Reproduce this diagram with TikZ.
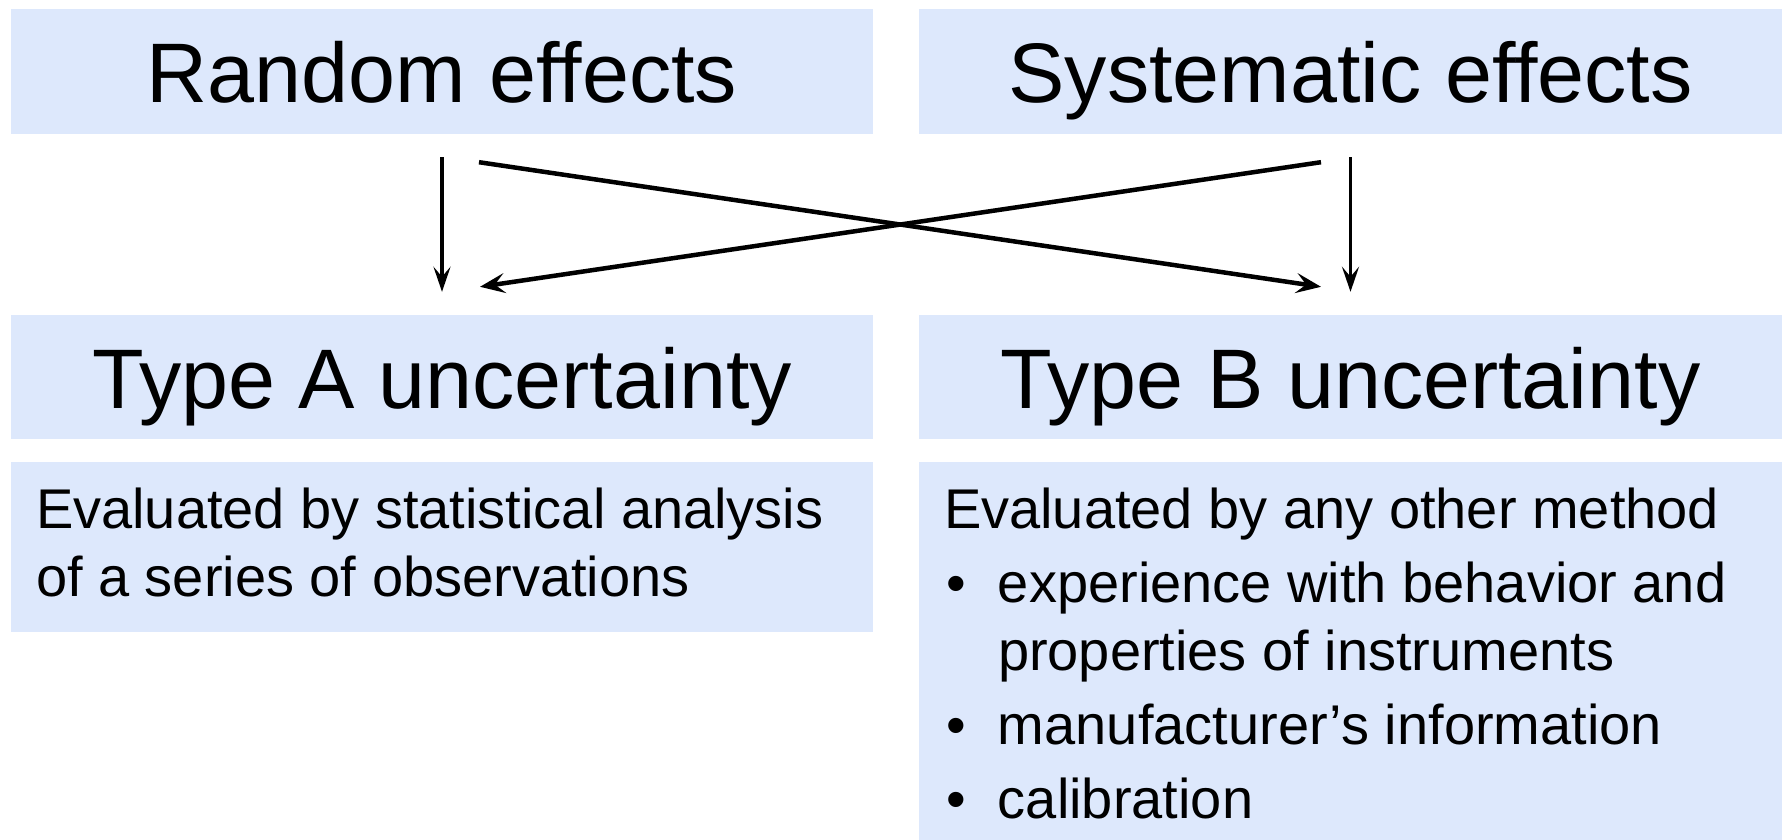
\documentclass[tikz,border=0pt]{standalone}
\usepackage{fontspec}
\setmainfont{Liberation Sans}
\usetikzlibrary{arrows.meta}
\definecolor{boxcol}{RGB}{221,232,252}
\tikzset{
  titlebox/.style={fill=boxcol, draw=none, inner sep=0pt, minimum height=125pt,
    text height=63pt, text depth=0pt, font=\fontsize{84.5}{100}\selectfont},
  bodybox/.style={fill=boxcol, draw=none, inner xsep=25pt, inner ysep=0pt},
  vline/.style={line width=3.5pt, -{Stealth[length=25pt,width=17pt,inset=10pt]}},
  xline/.style={line width=4.5pt, -{Stealth[length=25pt,width=20pt,inset=10pt]}},
}
\newcommand{\bitem}[1]{\par\hangindent=54pt\hangafter=1\noindent\makebox[54pt][l]{\hspace{2pt}\textbullet}#1}
\begin{document}
\begin{tikzpicture}[x=1pt,y=-1pt]
\path[use as bounding box] (0,0) rectangle (1783,840);
\node[titlebox, minimum width=862pt] (ra) at (442,71.5) {Random effects};
\node[titlebox, minimum width=863pt] (se) at (1350.5,71.5) {Systematic effects};
\node[titlebox, minimum width=862pt, minimum height=124pt] (ta) at (442,377) {Type A uncertainty};
\node[titlebox, minimum width=863pt, minimum height=124pt] (tb) at (1350.5,377) {Type B uncertainty};
\node[bodybox] (ba) at (442,547) {%
\begin{minipage}[c][170pt][t]{812pt}\fontsize{56}{68}\selectfont\raggedright
\rule{0pt}{66pt}Evaluated by statistical analysis\newline
of a series of observations
\end{minipage}};
\node[bodybox] (bb) at (1350.5,651) {%
\begin{minipage}[c][378pt][t]{813pt}\fontsize{56}{68}\selectfont\raggedright\parskip=6pt
\noindent\rule{0pt}{66pt}Evaluated by any other method
\bitem{experience with behavior and\newline properties of instruments}
\bitem{manufacturer’s information}
\bitem{calibration}
\end{minipage}};
\draw[vline] ([yshift=-23pt]ra.south) -- ([yshift=23pt]ta.north);
\draw[vline] ([yshift=-23pt]se.south) -- ([yshift=23pt]tb.north);
\draw[xline] ([xshift=37pt,yshift=-28pt]ra.south) -- ([xshift=-29.5pt,yshift=28pt]tb.north);
\draw[xline] ([xshift=-29.5pt,yshift=-28pt]se.south) -- ([xshift=38pt,yshift=28pt]ta.north);
\end{tikzpicture}
\end{document}
